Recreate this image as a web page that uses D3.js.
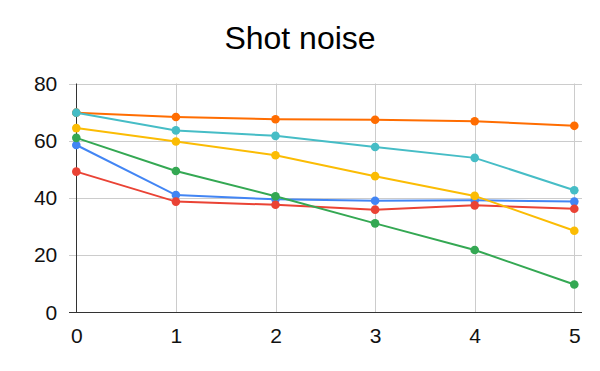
<!DOCTYPE html>
<html>
<head>
<meta charset="utf-8">
<script src="https://cdn.jsdelivr.net/npm/d3@7"></script>
<style>
  body { margin: 0; background: #fff; }
  text { font-family: "Liberation Sans", Arial, sans-serif; }
</style>
</head>
<body>
<div id="chart-area"></div>
<script>
// Data
var steps = [0, 1, 2, 3, 4, 5];
var yTicks = [0, 20, 40, 60, 80];

var blueValues   = [58.5, 41.0, 39.5, 39.0, 39.2, 38.7];
var redValues    = [49.2, 38.7, 37.6, 35.9, 37.4, 36.2];
var yellowValues = [64.4, 59.7, 54.9, 47.6, 40.7, 28.5];
var greenValues  = [61.0, 49.4, 40.6, 31.1, 21.8, 9.7];
var orangeValues = [69.8, 68.3, 67.5, 67.3, 66.8, 65.2];
var cyanValues   = [69.8, 63.6, 61.7, 57.8, 54.0, 42.7];

var series = [
    { color: "#4285f4", values: blueValues },
    { color: "#ea4335", values: redValues },
    { color: "#fbbc04", values: yellowValues },
    { color: "#34a853", values: greenValues },
    { color: "#ff6d01", values: orangeValues },
    { color: "#46bdc6", values: cyanValues }
];

var width = 600, height = 371;

var svg = d3.select("#chart-area")
    .append("svg")
        .attr("width", width)
        .attr("height", height);

// Scales
var x = d3.scaleLinear()
    .domain([0, 5])
    .range([76.3, 574.3]);

var y = d3.scaleLinear()
    .domain([0, 80])
    .range([312.3, 83.5]);

var plotLeft = 69, plotRight = 582;

// Horizontal gridlines
svg.append("g")
    .selectAll("line")
    .data(yTicks.filter(function(d){ return d > 0; }))
    .enter().append("line")
        .attr("x1", plotLeft)
        .attr("x2", plotRight)
        .attr("y1", function(d){ return Math.round(y(d)) + 0.5; })
        .attr("y2", function(d){ return Math.round(y(d)) + 0.5; })
        .attr("stroke", "#cccccc")
        .attr("stroke-width", 1);

// Vertical gridlines
svg.append("g")
    .selectAll("line")
    .data(steps.filter(function(d){ return d > 0; }))
    .enter().append("line")
        .attr("x1", function(d){ return Math.round(x(d)) + 0.5; })
        .attr("x2", function(d){ return Math.round(x(d)) + 0.5; })
        .attr("y1", y(80))
        .attr("y2", y(0))
        .attr("stroke", "#cccccc")
        .attr("stroke-width", 1);

// Baselines
svg.append("line")
    .attr("x1", plotLeft).attr("x2", plotRight)
    .attr("y1", Math.round(y(0)) + 0.5).attr("y2", Math.round(y(0)) + 0.5)
    .attr("stroke", "#333333");
svg.append("line")
    .attr("x1", Math.round(x(0)) + 0.5).attr("x2", Math.round(x(0)) + 0.5)
    .attr("y1", y(80)).attr("y2", y(0))
    .attr("stroke", "#333333");

// Y axis labels
var yAxisCall = d3.axisLeft(y)
    .tickValues(yTicks)
    .tickFormat(d3.format("d"))
    .tickSize(0)
    .tickPadding(19);
var yAxis = svg.append("g")
    .attr("transform", "translate(" + x(0) + ",0)")
    .call(yAxisCall);
yAxis.select(".domain").remove();
yAxis.selectAll("text")
    .attr("font-size", "21px")
    .attr("font-family", "Liberation Sans, Arial, sans-serif")
    .attr("fill", "#111");

// X axis labels
var xAxisCall = d3.axisBottom(x)
    .tickValues(steps)
    .tickFormat(d3.format("d"))
    .tickSize(0)
    .tickPadding(16);
var xAxis = svg.append("g")
    .attr("transform", "translate(0," + y(0) + ")")
    .call(xAxisCall);
xAxis.select(".domain").remove();
xAxis.selectAll("text")
    .attr("font-size", "21px")
    .attr("font-family", "Liberation Sans, Arial, sans-serif")
    .attr("fill", "#111");

// Lines and points
var line = d3.line()
    .x(function(d, i){ return x(steps[i]); })
    .y(function(d){ return y(d); });

series.forEach(function(s){
    svg.append("path")
        .datum(s.values)
        .attr("fill", "none")
        .attr("stroke", s.color)
        .attr("stroke-width", 2)
        .attr("d", line);

    svg.append("g")
        .selectAll("circle")
        .data(s.values)
        .enter().append("circle")
            .attr("cx", function(d, i){ return x(steps[i]); })
            .attr("cy", function(d){ return y(d); })
            .attr("r", 4.3)
            .attr("fill", s.color);
});

// Title
svg.append("text")
    .attr("x", 300)
    .attr("y", 49)
    .attr("text-anchor", "middle")
    .attr("font-size", "32px")
    .attr("fill", "#000")
    .text("Shot noise");
</script>
</body>
</html>
